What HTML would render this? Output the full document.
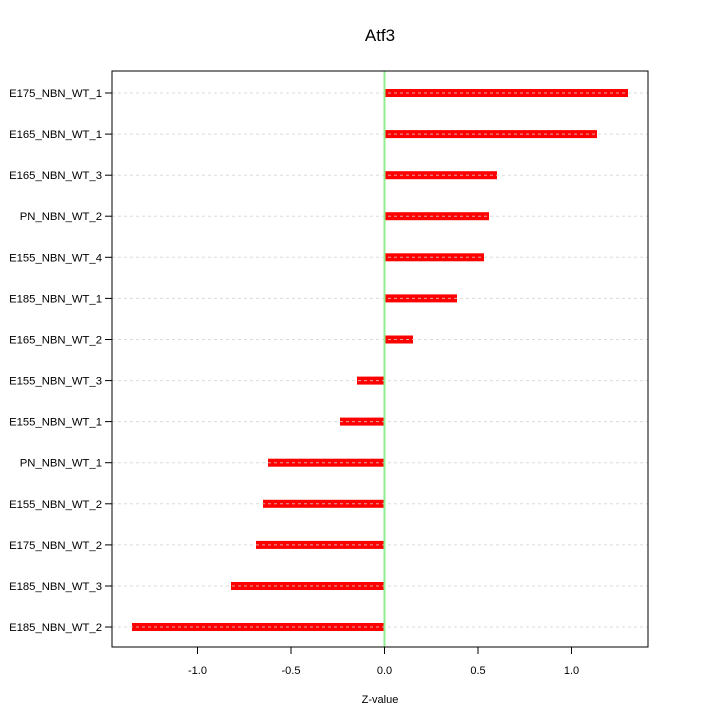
<!DOCTYPE html>
<html><head><meta charset="utf-8"><style>body{margin:0;background:#fff}svg{display:block}text{font-family:"Liberation Sans",sans-serif}</style></head><body>
<svg width="720" height="720" xmlns="http://www.w3.org/2000/svg">
<text x="380" y="41" font-size="17" text-anchor="middle">Atf3</text>
<g fill="#ff0000">
<rect x="384.5" y="89" width="243.5" height="8"/>
<rect x="384.5" y="130.1" width="212.5" height="8"/>
<rect x="384.5" y="171.2" width="112.5" height="8"/>
<rect x="384.5" y="212.2" width="104.5" height="8"/>
<rect x="384.5" y="253.3" width="99.5" height="8"/>
<rect x="384.5" y="294.4" width="72.5" height="8"/>
<rect x="384.5" y="335.5" width="28.5" height="8"/>
<rect x="357" y="376.6" width="27.5" height="8"/>
<rect x="340" y="417.6" width="44.5" height="8"/>
<rect x="268" y="458.7" width="116.5" height="8"/>
<rect x="263" y="499.8" width="121.5" height="8"/>
<rect x="256" y="540.9" width="128.5" height="8"/>
<rect x="231" y="582" width="153.5" height="8"/>
<rect x="132" y="623" width="252.5" height="8"/>
</g>
<g stroke="#d3d3d3" stroke-dasharray="3,3" opacity="0.8">
<line x1="112" x2="648" y1="93" y2="93"/><line x1="112" x2="648" y1="134.1" y2="134.1"/><line x1="112" x2="648" y1="175.2" y2="175.2"/><line x1="112" x2="648" y1="216.2" y2="216.2"/><line x1="112" x2="648" y1="257.3" y2="257.3"/><line x1="112" x2="648" y1="298.4" y2="298.4"/><line x1="112" x2="648" y1="339.5" y2="339.5"/><line x1="112" x2="648" y1="380.6" y2="380.6"/><line x1="112" x2="648" y1="421.6" y2="421.6"/><line x1="112" x2="648" y1="462.7" y2="462.7"/><line x1="112" x2="648" y1="503.8" y2="503.8"/><line x1="112" x2="648" y1="544.9" y2="544.9"/><line x1="112" x2="648" y1="586" y2="586"/><line x1="112" x2="648" y1="627" y2="627"/>
</g>
<g stroke="#000">
<line x1="105" x2="112" y1="93" y2="93"/><line x1="105" x2="112" y1="134.1" y2="134.1"/><line x1="105" x2="112" y1="175.2" y2="175.2"/><line x1="105" x2="112" y1="216.2" y2="216.2"/><line x1="105" x2="112" y1="257.3" y2="257.3"/><line x1="105" x2="112" y1="298.4" y2="298.4"/><line x1="105" x2="112" y1="339.5" y2="339.5"/><line x1="105" x2="112" y1="380.6" y2="380.6"/><line x1="105" x2="112" y1="421.6" y2="421.6"/><line x1="105" x2="112" y1="462.7" y2="462.7"/><line x1="105" x2="112" y1="503.8" y2="503.8"/><line x1="105" x2="112" y1="544.9" y2="544.9"/><line x1="105" x2="112" y1="586" y2="586"/><line x1="105" x2="112" y1="627" y2="627"/>
<line x1="197.5" x2="197.5" y1="647" y2="654"/><line x1="291" x2="291" y1="647" y2="654"/><line x1="384.5" x2="384.5" y1="647" y2="654"/><line x1="478" x2="478" y1="647" y2="654"/><line x1="571.5" x2="571.5" y1="647" y2="654"/>
</g>
<g font-size="11.3" text-anchor="end">
<text x="102" y="97">E175_NBN_WT_1</text><text x="102" y="138.1">E165_NBN_WT_1</text><text x="102" y="179.2">E165_NBN_WT_3</text><text x="102" y="220.2">PN_NBN_WT_2</text><text x="102" y="261.3">E155_NBN_WT_4</text><text x="102" y="302.4">E185_NBN_WT_1</text><text x="102" y="343.5">E165_NBN_WT_2</text><text x="102" y="384.6">E155_NBN_WT_3</text><text x="102" y="425.6">E155_NBN_WT_1</text><text x="102" y="466.7">PN_NBN_WT_1</text><text x="102" y="507.8">E155_NBN_WT_2</text><text x="102" y="548.9">E175_NBN_WT_2</text><text x="102" y="590">E185_NBN_WT_3</text><text x="102" y="631">E185_NBN_WT_2</text>
</g>
<g font-size="11" text-anchor="middle">
<text x="197.5" y="674">-1.0</text><text x="291" y="674">-0.5</text><text x="384.5" y="674">0.0</text><text x="478" y="674">0.5</text><text x="571.5" y="674">1.0</text>
</g>
<line x1="384.5" x2="384.5" y1="71" y2="647" stroke="#90ee90" stroke-width="2"/>
<rect x="112" y="71" width="536" height="576" fill="none" stroke="#000"/>
<text x="380" y="703" font-size="11" text-anchor="middle">Z-value</text>
</svg>
</body></html>
